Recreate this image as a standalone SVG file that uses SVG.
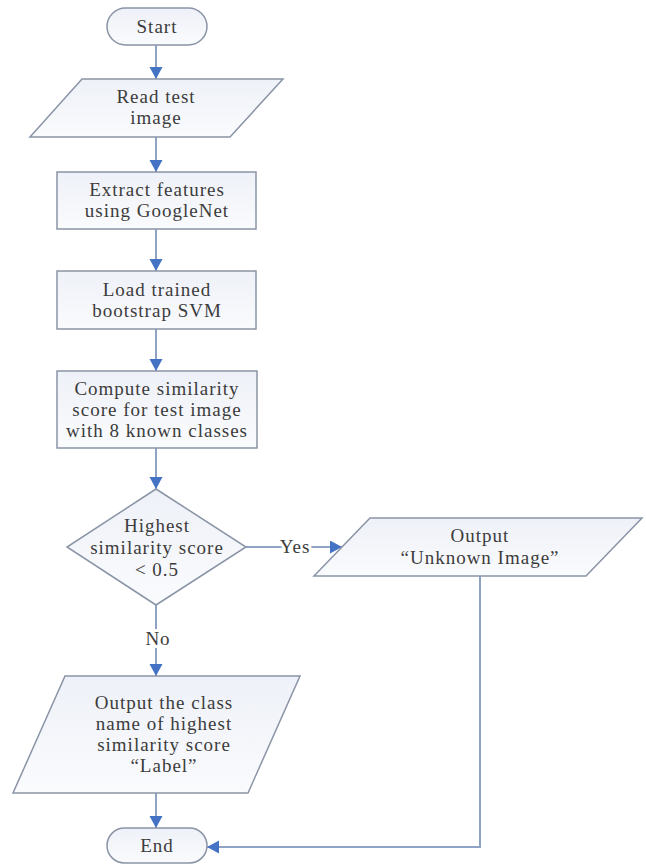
<svg xmlns="http://www.w3.org/2000/svg" width="646" height="867" viewBox="0 0 646 867">
<style>
.shape{fill:url(#fillg);stroke:#8a94a6;stroke-width:1.5}
.lbl{font-family:"Liberation Serif","Times New Roman",serif;font-size:19px;fill:#3c3c3c;text-anchor:middle;letter-spacing:1px}
.con{fill:none;stroke:#8fa4c4;stroke-width:2}
.edge{font-family:"Liberation Serif","Times New Roman",serif;font-size:19px;fill:#3c3c3c;text-anchor:middle;letter-spacing:1px;stroke:#ffffff;stroke-width:6;paint-order:stroke}
</style>
<defs>
<linearGradient id="fillg" x1="0" y1="0" x2="0" y2="1">
<stop offset="0" stop-color="#eef1f8"/>
<stop offset="1" stop-color="#fafbfd"/>
</linearGradient>
<marker id="arr" markerUnits="userSpaceOnUse" markerWidth="14" markerHeight="14" refX="12" refY="6.5" orient="auto">
<path d="M0,0 L12,6.5 L0,13 Z" fill="#4472c4"/>
</marker>
</defs>
<rect width="646" height="867" fill="#ffffff"/>
<g id="connectors">
<path class="con" d="M156,45 V79" marker-end="url(#arr)"/>
<path class="con" d="M156,137 V172" marker-end="url(#arr)"/>
<path class="con" d="M156,229 V271" marker-end="url(#arr)"/>
<path class="con" d="M156,329 V371" marker-end="url(#arr)"/>
<path class="con" d="M156,448 V489" marker-end="url(#arr)"/>
<path class="con" d="M246,547 H342" marker-end="url(#arr)"/>
<text class="edge" x="295" y="553">Yes</text>
<path class="con" d="M156,605 V676" marker-end="url(#arr)"/>
<text class="edge" x="158" y="645">No</text>
<path class="con" d="M156,793 V828" marker-end="url(#arr)"/>
<path class="con" d="M480,576 V847 H207" marker-end="url(#arr)"/>
</g>
<g id="start">
<rect class="shape" x="107" y="8" width="100" height="37" rx="18.5"/>
<text class="lbl" x="157" y="33">Start</text>
</g>
<g id="read">
<polygon class="shape" points="82,79 283,79 230,137 30,137"/>
<text class="lbl" x="156" y="103">Read test</text>
<text class="lbl" x="156" y="124">image</text>
</g>
<g id="extract">
<rect class="shape" x="57" y="172" width="199" height="57"/>
<text class="lbl" x="157" y="196">Extract features</text>
<text class="lbl" x="157" y="217">using GoogleNet</text>
</g>
<g id="load">
<rect class="shape" x="57" y="271" width="199" height="58"/>
<text class="lbl" x="157" y="296">Load trained</text>
<text class="lbl" x="157" y="317">bootstrap SVM</text>
</g>
<g id="compute">
<rect class="shape" x="57" y="371" width="200" height="77"/>
<text class="lbl" x="157" y="395">Compute similarity</text>
<text class="lbl" x="157" y="416">score for test image</text>
<text class="lbl" x="157" y="437">with 8 known classes</text>
</g>
<g id="decision">
<polygon class="shape" points="156,489 246,547 156,605 67,547"/>
<text class="lbl" x="157" y="532">Highest</text>
<text class="lbl" x="157" y="554">similarity score</text>
<text class="lbl" x="157" y="576">&lt; 0.5</text>
</g>
<g id="unknown">
<polygon class="shape" points="370,518 642,518 586,576 314,576"/>
<text class="lbl" x="480" y="542">Output</text>
<text class="lbl" x="480" y="564">“Unknown Image”</text>
</g>
<g id="outlabel">
<polygon class="shape" points="65,676 300,676 248,793 13,793"/>
<text class="lbl" x="164" y="709">Output the class</text>
<text class="lbl" x="164" y="730">name of highest</text>
<text class="lbl" x="164" y="751">similarity score</text>
<text class="lbl" x="164" y="772">“Label”</text>
</g>
<g id="end">
<rect class="shape" x="107" y="828" width="100" height="35" rx="17.5"/>
<text class="lbl" x="157" y="852">End</text>
</g>
</svg>
